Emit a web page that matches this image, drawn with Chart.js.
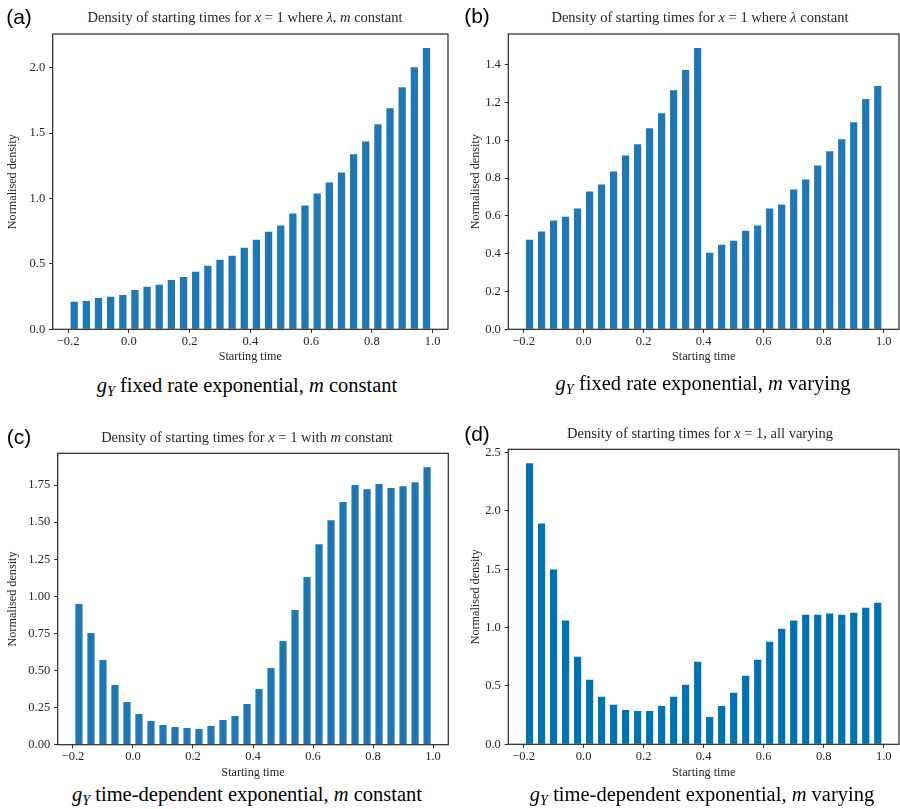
<!DOCTYPE html>
<html>
<head>
<meta charset="utf-8">
<script src="https://cdn.jsdelivr.net/npm/chart.js"></script>
<style>
  body { margin: 0; background: #fff; }
  #page { position: relative; width: 900px; height: 809px; overflow: hidden; font-family: "Liberation Serif", "DejaVu Serif", serif; color: #222; }
  .panel { position: absolute; width: 450px; height: 400px; }
  .panel canvas { position: absolute; left: 0; top: 0; }
  .tag { position: absolute; width: 40px; margin-left: -20px; text-align: center; font-family: "Liberation Sans", Arial, sans-serif; font-size: 21px; line-height: 24px; color: #000; }
  .title { position: absolute; width: 440px; margin-left: -220px; text-align: center; font-size: 14.5px; line-height: 16px; color: #262626; }
  .caption { position: absolute; width: 440px; margin-left: -220px; text-align: center; font-size: 20.5px; line-height: 24px; color: #000; }
  sub { font-size: 70%; vertical-align: -0.3em; line-height: 0; }
</style>
</head>
<body>
<div id="page">
  <div class="panel" style="left:0;top:0">
    <canvas id="chartA"></canvas>
    <div class="tag" style="left:19px;top:5px">(a)</div>
    <div class="title" style="left:245px;top:9px">Density of starting times for <i>x</i> = 1 where <i>λ</i>, <i>m</i> constant</div>
    <div class="caption" style="left:247px;top:373px"><i>g<sub>Y</sub></i> fixed rate exponential, <i>m</i> constant</div>
  </div>
  <div class="panel" style="left:450px;top:0">
    <canvas id="chartB"></canvas>
    <div class="tag" style="left:27px;top:4px">(b)</div>
    <div class="title" style="left:250px;top:9px">Density of starting times for <i>x</i> = 1 where <i>λ</i> constant</div>
    <div class="caption" style="left:253px;top:371px"><i>g<sub>Y</sub></i> fixed rate exponential, <i>m</i> varying</div>
  </div>
  <div class="panel" style="left:0;top:410px">
    <canvas id="chartC"></canvas>
    <div class="tag" style="left:19px;top:15px">(c)</div>
    <div class="title" style="left:247px;top:19px">Density of starting times for <i>x</i> = 1 with <i>m</i> constant</div>
    <div class="caption" style="left:247px;top:372px"><i>g<sub>Y</sub></i> time-dependent exponential, <i>m</i> constant</div>
  </div>
  <div class="panel" style="left:450px;top:410px">
    <canvas id="chartD"></canvas>
    <div class="tag" style="left:27px;top:12px">(d)</div>
    <div class="title" style="left:250px;top:15px">Density of starting times for <i>x</i> = 1, all varying</div>
    <div class="caption" style="left:252px;top:372px"><i>g<sub>Y</sub></i> time-dependent exponential, <i>m</i> varying</div>
  </div>
</div>
<script>
// histogram bin centres (bins of width 0.04 from -0.2 to 1.0)
const binCentres = [-0.18, -0.14, -0.10, -0.06, -0.02, 0.02, 0.06, 0.10, 0.14, 0.18,
                    0.22, 0.26, 0.30, 0.34, 0.38, 0.42, 0.46, 0.50, 0.54, 0.58,
                    0.62, 0.66, 0.70, 0.74, 0.78, 0.82, 0.86, 0.90, 0.94, 0.98];
const xTicks = [-0.2, 0.0, 0.2, 0.4, 0.6, 0.8, 1.0];

const densityA = [0.210, 0.217, 0.240, 0.248, 0.263, 0.300, 0.325, 0.340, 0.378, 0.400,
                  0.440, 0.486, 0.532, 0.563, 0.624, 0.685, 0.747, 0.793, 0.885, 0.946,
                  1.038, 1.123, 1.200, 1.338, 1.437, 1.568, 1.690, 1.852, 2.005, 2.151];
const densityB = [0.474, 0.517, 0.575, 0.596, 0.639, 0.729, 0.766, 0.835, 0.920, 0.979,
                  1.064, 1.143, 1.265, 1.372, 1.488, 0.405, 0.448, 0.469, 0.522, 0.549,
                  0.639, 0.660, 0.740, 0.793, 0.867, 0.942, 1.005, 1.096, 1.218, 1.287];
const densityC = [0.948, 0.753, 0.571, 0.402, 0.288, 0.207, 0.160, 0.133, 0.119, 0.112,
                  0.106, 0.126, 0.166, 0.193, 0.274, 0.375, 0.517, 0.699, 0.908, 1.130,
                  1.352, 1.514, 1.636, 1.750, 1.723, 1.757, 1.730, 1.743, 1.770, 1.871];
const densityD = [2.408, 1.893, 1.498, 1.060, 0.750, 0.553, 0.407, 0.338, 0.295, 0.286,
                  0.286, 0.329, 0.407, 0.510, 0.707, 0.235, 0.329, 0.441, 0.587, 0.725,
                  0.879, 0.991, 1.060, 1.111, 1.111, 1.120, 1.111, 1.128, 1.171, 1.214];

const yTicksA = [0.0, 0.5, 1.0, 1.5, 2.0];
const yTicksB = [0.0, 0.2, 0.4, 0.6, 0.8, 1.0, 1.2, 1.4];
const yTicksC = [0.00, 0.25, 0.50, 0.75, 1.00, 1.25, 1.50, 1.75];
const yTicksD = [0.0, 0.5, 1.0, 1.5, 2.0, 2.5];

// all four spines, like matplotlib
const frame = {
  id: 'frame',
  afterDatasetsDraw(chart) {
    const a = chart.chartArea, c = chart.ctx;
    c.save();
    c.strokeStyle = '#262626';
    c.lineWidth = 1.2;
    c.strokeRect(a.left, a.top, a.right - a.left, a.bottom - a.top);
    c.restore();
  }
};

function fmt(v, d) {
  return v.toFixed(d).replace('-', '\u2212');
}

function makeChart(id, values, yTicks, decimals, colour, box) {
  const canvas = document.getElementById(id);
  canvas.width = 450;
  canvas.height = box.h;
  const tickFont = { family: '"Liberation Serif", serif', size: 12.5 };
  const labelFont = { family: '"Liberation Serif", serif', size: 12.2 };
  return new Chart(canvas.getContext('2d'), {
    type: 'bar',
    data: {
      datasets: [{
        data: binCentres.map((x, i) => ({ x: x, y: values[i] })),
        backgroundColor: colour,
        borderWidth: 0,
        barPercentage: 0.6,
        categoryPercentage: 1.0
      }]
    },
    options: {
      responsive: false,
      animation: false,
      devicePixelRatio: 1,
      layout: { padding: { top: box.top, right: box.right, left: 0, bottom: 0 } },
      plugins: { legend: { display: false }, tooltip: { enabled: false } },
      scales: {
        x: {
          type: 'linear',
          offset: false,
          min: -0.2508,
          max: 1.0508,
          afterBuildTicks: s => { s.ticks = xTicks.map(v => ({ value: v })); },
          afterFit: s => { s.height = box.h - box.bottom; },
          ticks: { autoSkip: false, maxRotation: 0, padding: 1.5, color: '#262626', font: tickFont,
                   callback: v => fmt(v, 1) },
          grid: { display: true, offset: false, drawOnChartArea: false, drawTicks: true,
                  tickLength: 3.5, tickColor: '#262626', tickWidth: 1 },
          border: { display: false },
          title: { display: true, text: 'Starting time', color: '#262626',
                   font: labelFont, padding: { top: 0, bottom: 1 } }
        },
        y: {
          min: 0,
          max: Math.max(...values) * 1.05,
          afterBuildTicks: s => { s.ticks = yTicks.map(v => ({ value: v })); },
          afterFit: s => { s.width = box.left; },
          ticks: { autoSkip: false, padding: 4, color: '#262626', font: tickFont,
                   callback: v => fmt(v, decimals) },
          grid: { display: true, drawOnChartArea: false, drawTicks: true,
                  tickLength: 3.5, tickColor: '#262626', tickWidth: 1 },
          border: { display: false },
          title: { display: true, text: 'Normalised density', color: '#262626',
                   font: labelFont, padding: { top: box.yt, bottom: 0 } }
        }
      }
    },
    plugins: [frame]
  });
}

makeChart('chartA', densityA, yTicksA, 1, '#1f77b4', { h: 365, top: 34, right: 2, left: 52.7, bottom: 329.3, yt: 5.4 });
makeChart('chartB', densityB, yTicksB, 1, '#1f77b4', { h: 365, top: 34, right: 1, left: 58.3, bottom: 329.3, yt: 18.4 });
makeChart('chartC', densityC, yTicksC, 2, '#1f77b4', { h: 371, top: 43.3, right: 1.7, left: 57.7, bottom: 334.7, yt: 5.4 });
makeChart('chartD', densityD, yTicksD, 1, '#0072b2', { h: 371, top: 39.3, right: 1, left: 58.3, bottom: 334.3, yt: 18.4 });
</script>
</body>
</html>
